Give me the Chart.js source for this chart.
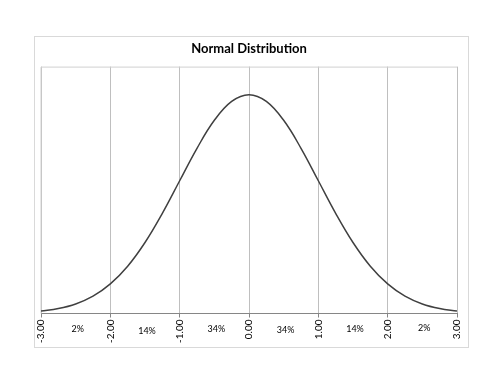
<!DOCTYPE html>
<html>
<head>
<meta charset="utf-8">
<script src="https://cdn.jsdelivr.net/npm/chart.js@4/dist/chart.umd.min.js"></script>
<style>
  body { margin: 0; background: #fff; }
  #wrap { position: relative; width: 500px; height: 386px; }
  #frame { position: absolute; left: 34px; top: 36px; width: 433px; height: 310px; border: 1px solid #d9d9d9; }
</style>
</head>
<body>
<div id="wrap">
  <div id="frame"></div>
  <canvas id="chart" width="500" height="386"></canvas>
</div>
<script>
// z-scores and density values
const zValues = [-3, -2.75, -2.5, -2.25, -2, -1.75, -1.5, -1.25, -1, -0.75, -0.5, -0.25, 0,
  0.25, 0.5, 0.75, 1, 1.25, 1.5, 1.75, 2, 2.25, 2.5, 2.75, 3];
const density = [0.0044, 0.0091, 0.0175, 0.0317, 0.054, 0.0863, 0.1295, 0.1826, 0.242, 0.3011, 0.3521, 0.3867, 0.3989,
  0.3867, 0.3521, 0.3011, 0.242, 0.1826, 0.1295, 0.0863, 0.054, 0.0317, 0.0175, 0.0091, 0.0044];

// area labels between the gridlines
const bandCenters = [-2.5, -1.5, -0.5, 0.5, 1.5, 2.5];
const bandLabels = ["2%", "14%", "34%", "34%", "14%", "2%"];
const bandOffsets = [16, 18, 16, 17, 16, 15];

const FONT = "Lato, 'Open Sans', sans-serif";

const plotBorder = {
  id: "plotBorder",
  beforeDatasetsDraw(chart) {
    const { ctx, chartArea: a } = chart;
    ctx.save();
    ctx.strokeStyle = "#d0d0d0";
    ctx.lineWidth = 1;
    ctx.beginPath();
    ctx.moveTo(a.left, a.bottom);
    ctx.lineTo(a.left, a.top + 0.5);
    ctx.lineTo(a.right, a.top + 0.5);
    ctx.stroke();
    ctx.restore();
  }
};

const bandText = {
  id: "bandText",
  afterDraw(chart) {
    const { ctx, chartArea: a } = chart;
    const x = chart.scales.x;
    ctx.save();
    ctx.font = "9px " + FONT;
    ctx.fillStyle = "#000";
    ctx.textAlign = "center";
    ctx.textBaseline = "middle";
    bandCenters.forEach((c, i) => {
      ctx.fillText(bandLabels[i], x.getPixelForValue(c) + 2, a.bottom + bandOffsets[i]);
    });
    ctx.restore();
  }
};

new Chart(document.getElementById("chart"), {
  type: "line",
  data: {
    datasets: [{
      data: zValues.map((z, i) => ({ x: z, y: density[i] })),
      borderColor: "#404040",
      borderWidth: 1.5,
      pointRadius: 0,
      tension: 0.4,
      fill: false
    }]
  },
  options: {
    responsive: false,
    animation: false,
    layout: { padding: { left: 41, right: 43, top: 0, bottom: 41 } },
    plugins: {
      legend: { display: false },
      tooltip: { enabled: false },
      title: {
        display: true,
        text: "Normal Distribution",
        color: "#000",
        font: { family: FONT, size: 13, weight: "bold" },
        padding: { top: 41, bottom: 10 }
      }
    },
    scales: {
      x: {
        type: "linear",
        min: -3,
        max: 3,
        grid: { color: "#bfbfbf", tickColor: "#868686", tickLength: 4 },
        border: { color: "#868686", width: 1 },
        ticks: {
          stepSize: 1,
          minRotation: 90,
          maxRotation: 90,
          padding: 2,
          color: "#000",
          font: { family: FONT, size: 10 },
          callback: (v) => v.toFixed(2)
        }
      },
      y: {
        display: false,
        min: 0,
        max: 0.45
      }
    }
  },
  plugins: [plotBorder, bandText]
});
</script>
</body>
</html>
